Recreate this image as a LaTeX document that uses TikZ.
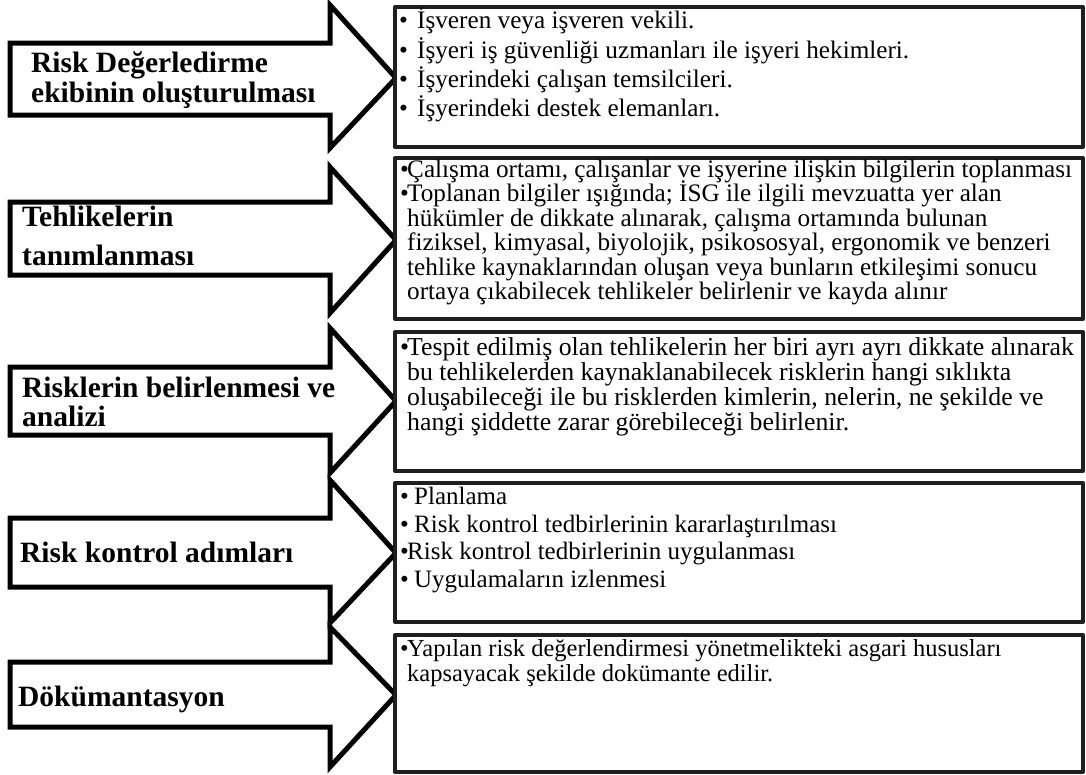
\documentclass[tikz,border=0pt]{standalone}
\usepackage{fontspec}
\setmainfont{Liberation Serif}
\newcommand\blockarrow[5]{%
  \draw[arrowshape] (10,#2) -- (330,#2) -- (330,#1) -- (396,#3) -- (330,#5) -- (330,#4) -- (10,#4) -- cycle;}
\begin{document}
\begin{tikzpicture}[x=1pt,y=-1pt,
  arrowshape/.style={draw=black, fill=white, line width=5pt, line join=miter, miter limit=10},
  boxshape/.style={draw=black!88, fill=white, line width=4pt, line join=round, outer sep=0pt, inner sep=0pt, anchor=north west, minimum width=688pt},
  lbl/.style={font=\fontsize{29.5}{30}\selectfont\bfseries, anchor=base west, inner sep=0pt},
  itm/.style={anchor=base west, inner sep=0pt},
  ra/.style={itm, font=\fontsize{25.2}{28}\selectfont},
  rb/.style={itm, font=\fontsize{25.2}{25}\selectfont},
  rc/.style={itm, font=\fontsize{25.8}{25}\selectfont},
  rd/.style={itm, font=\fontsize{25}{25}\selectfont},
  re/.style={itm, font=\fontsize{24.5}{25}\selectfont},
]
\useasboundingbox (0,0) rectangle (1086,774);
\fill[white] (0,0) rectangle (1086,774);

% arrows
\blockarrow{5}{43}{78}{115}{148}
\blockarrow{167}{202}{240}{275}{313}
\blockarrow{328}{367}{401}{435}{473}
\blockarrow{480}{518}{553}{587}{623}
\blockarrow{627}{662}{695}{727}{767}

% boxes
\node[boxshape, minimum height=140pt] (b1) at (395,7) {};
\node[boxshape, minimum height=161pt] (b2) at (395,158) {};
\node[boxshape, minimum height=139pt] (b3) at (395,332) {};
\node[boxshape, minimum height=139pt] (b4) at (395,483) {};
\node[boxshape, minimum height=137pt] (b5) at (395,635) {};

% labels
\node[lbl] (l1a) at (31,72) {Risk Değerledirme};
\node[lbl] (l1b) at (31,102) {ekibinin oluşturulması};
\node[lbl] (l2a) at (22,226) {Tehlikelerin};
\node[lbl] (l2b) at (22,265) {tanımlanması};
\node[lbl] (l3a) at (22,397) {Risklerin belirlenmesi ve};
\node[lbl] (l3b) at (22,426) {analizi};
\node[lbl] (l4) at (20,562) {Risk kontrol adımları};
\node[lbl] (l5) at (18,706) {Dökümantasyon};

% row 1
\node[ra] (t11) at (399,28) {\makebox[18pt][l]{•}İşveren veya işveren vekili.};
\node[ra] (t12) at (399,58) {\makebox[18pt][l]{•}İşyeri iş güvenliği uzmanları ile işyeri hekimleri.};
\node[ra] (t13) at (399,87) {\makebox[18pt][l]{•}İşyerindeki çalışan temsilcileri.};
\node[ra] (t14) at (399,116) {\makebox[18pt][l]{•}İşyerindeki destek elemanları.};

% row 2
\node[rb] (t21) at (400,177) {\makebox[7pt][l]{•}Çalışma ortamı, çalışanlar ve işyerine ilişkin bilgilerin toplanması};
\node[rb] (t22) at (400,201) {\makebox[7pt][l]{•}Toplanan bilgiler ışığında; İSG ile ilgili mevzuatta yer alan};
\node[rb] (t23) at (407,226) {hükümler de dikkate alınarak, çalışma ortamında bulunan};
\node[rb] (t24) at (407,250) {fiziksel, kimyasal, biyolojik, psikososyal, ergonomik ve benzeri};
\node[rb] (t25) at (407,275) {tehlike kaynaklarından oluşan veya bunların etkileşimi sonucu};
\node[rb] (t26) at (407,299) {ortaya çıkabilecek tehlikeler belirlenir ve kayda alınır};

% row 3
\node[rc] (t31) at (400,355) {\makebox[7pt][l]{•}Tespit edilmiş olan tehlikelerin her biri ayrı ayrı dikkate alınarak};
\node[rc] (t32) at (407,380) {bu tehlikelerden kaynaklanabilecek risklerin hangi sıklıkta};
\node[rc] (t33) at (407,405) {oluşabileceği ile bu risklerden kimlerin, nelerin, ne şekilde ve};
\node[rc] (t34) at (407,430) {hangi şiddette zarar görebileceği belirlenir.};

% row 4
\node[rd] (t41) at (400,504) {\makebox[14pt][l]{•}Planlama};
\node[rd] (t42) at (400,532) {\makebox[14pt][l]{•}Risk kontrol tedbirlerinin kararlaştırılması};
\node[rd] (t43) at (400,559) {\makebox[7pt][l]{•}Risk kontrol tedbirlerinin uygulanması};
\node[rd] (t44) at (400,587) {\makebox[14pt][l]{•}Uygulamaların izlenmesi};

% row 5
\node[re] (t51) at (400,656) {\makebox[7pt][l]{•}Yapılan risk değerlendirmesi yönetmelikteki asgari hususları};
\node[re] (t52) at (407,681) {kapsayacak şekilde dokümante edilir.};
\end{tikzpicture}
\end{document}
